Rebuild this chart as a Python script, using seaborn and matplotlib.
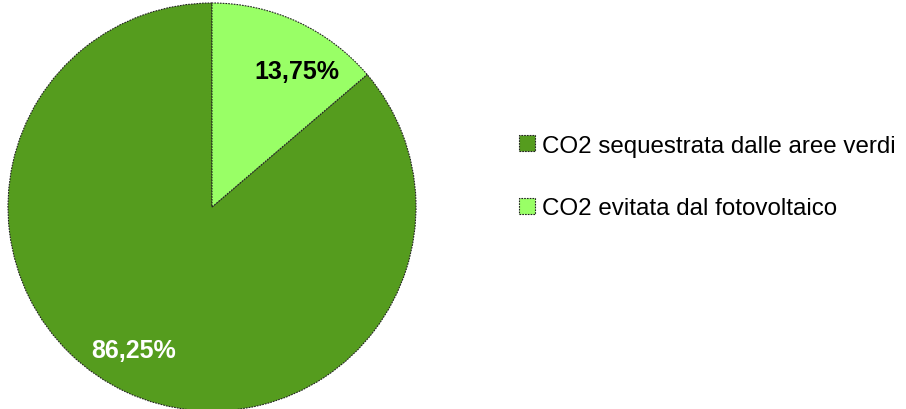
import matplotlib
matplotlib.use("Agg")
import matplotlib.pyplot as plt
import seaborn as sns

categories = ["CO2 sequestrata dalle aree verdi", "CO2 evitata dal fotovoltaico"]
values = [86.25, 13.75]
colors = ["#559C1E", "#99FF66"]
label_colors = ["white", "black"]

sns.set_theme(style="white")
plt.rcParams['font.family'] = ['Liberation Sans', 'DejaVu Sans']
plt.rcParams['text.color'] = 'black'

W, H = 906, 410
fig = plt.figure(figsize=(W / 100, H / 100), dpi=100)
cx, cy, r = 212, 208, 204
ax = fig.add_axes([(cx - r) / W, (H - cy - r) / H, 2 * r / W, 2 * r / H])

wedges, texts, autotexts = ax.pie(
    values, colors=colors, startangle=90, counterclock=True, radius=1,
    autopct=lambda p: f"{p:.2f}%".replace(".", ","), pctdistance=0.78,
    wedgeprops=dict(edgecolor="#222222", linewidth=0.8, linestyle=(0, (1.5, 1))),
    textprops=dict(fontsize=18, fontweight="bold"))
ax.set_xlim(-1, 1)
ax.set_ylim(-1, 1)
ax.set_aspect("equal")

# Excel-style label placement
positions = [(-0.385, -0.70), (0.415, 0.665)]
for t, pos, c in zip(autotexts, positions, label_colors):
    t.set_position(pos)
    t.set_color(c)
    t.set_ha("center")
    t.set_va("center")

leg = fig.legend(wedges, categories, loc="center left",
                 bbox_to_anchor=(497 / W, (H - 178) / H), frameon=False,
                 fontsize=17.4, handlelength=0.67, handleheight=0.67,
                 handletextpad=0.3, labelspacing=1.68, labelcolor="black")

fig.savefig("out.png", dpi=100)
